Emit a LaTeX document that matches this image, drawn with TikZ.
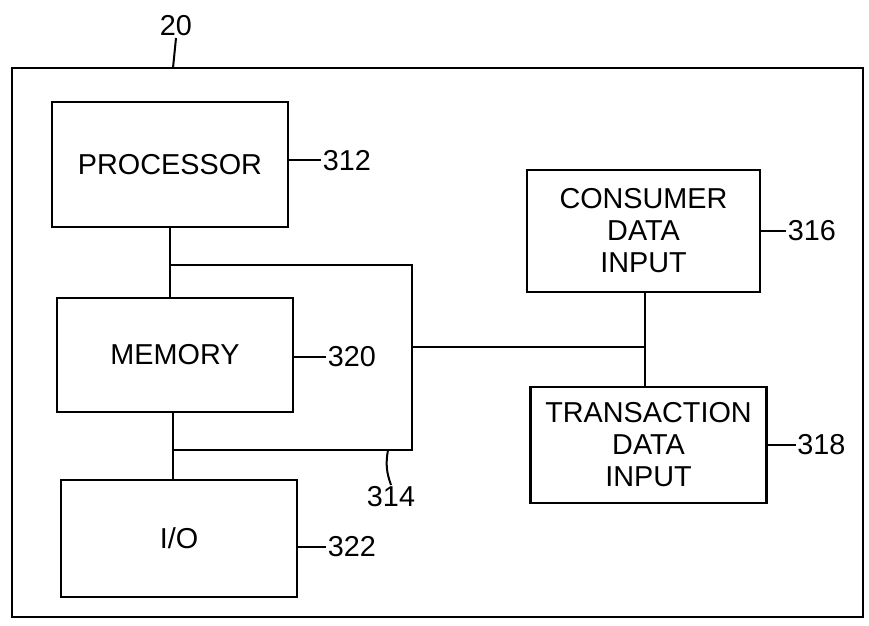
\documentclass[tikz,border=0pt]{standalone}
\usepackage{fontspec}
\setmainfont{Liberation Sans}
\usetikzlibrary{positioning}

\begin{document}
\begin{tikzpicture}[x=0.5pt,y=-0.5pt,font=\fontsize{14.4}{16}\selectfont,line width=1pt]
	\tikzstyle{blk}=[draw,line width=1.1pt,minimum width=118pt,align=center,inner sep=0pt]
	\tikzstyle{refnum}=[inner sep=0.4pt]
	\useasboundingbox (0,0) rectangle (869,626);
	% outer frame of unit 20
	\draw[line width=1.3pt] (12,68) rectangle (863,617);
	\node[refnum] (r20) at (176,26) {20};
	\coordinate (frametop) at (173,68);
	\draw (r20.south) -- (frametop);
	% blocks
	\node[blk,minimum height=62.5pt] (proc) at (170,164.5) {PROCESSOR};
	\node[blk,minimum height=57pt] (mem) at (175,355) {MEMORY};
	\node[blk,minimum height=58.5pt] (io) at (179,538.5) {I/O};
	\node[blk,minimum width=116.5pt,minimum height=61pt] (cons) at (643.5,231) {CONSUMER\\DATA\\INPUT};
	\node[blk,minimum height=58pt] (trans) at (648.5,445) {TRANSACTION\\DATA\\INPUT};
	% reference numbers
	\node[refnum,right=16pt of proc.east,yshift=2pt] (r312) {312};
	\node[refnum,right=16pt of mem.east,yshift=-1pt] (r320) {320};
	\node[refnum,right=14pt of io.east,yshift=-4pt] (r322) {322};
	\node[refnum,right=12.5pt of cons.east] (r316) {316};
	\node[refnum,right=14pt of trans.east] (r318) {318};
	\draw (proc.east |- r312) -- (r312.west);
	\draw (mem.east |- r320) -- (r320.west);
	\draw (io.east |- r322) -- (r322.west);
	\draw (cons.east |- r316) -- (r316.west);
	\draw (trans.east |- r318) -- (r318.west);
	% bus 314
	\coordinate (bustl) at (170,265);
	\coordinate (bustr) at (412,265);
	\coordinate (busbr) at (412,450);
	\coordinate (busbl) at (173,450);
	\coordinate (busout) at (412,347);
	\coordinate (bustick) at (388,450);
	\draw (bustl) -- (bustr) -- (busbr) -- (busbl);
	\draw (proc.south -| bustl) -- (mem.north -| bustl);
	\draw (mem.south -| busbl) -- (io.north -| busbl);
	\draw (busout) -- (busout -| 645,0);
	\draw (cons.south -| 645,0) -- (trans.north -| 645,0);
	\node[refnum] (r314) at (391,497) {314};
	\draw (bustick) to[bend right=15] (r314.north);
\end{tikzpicture}
\end{document}
